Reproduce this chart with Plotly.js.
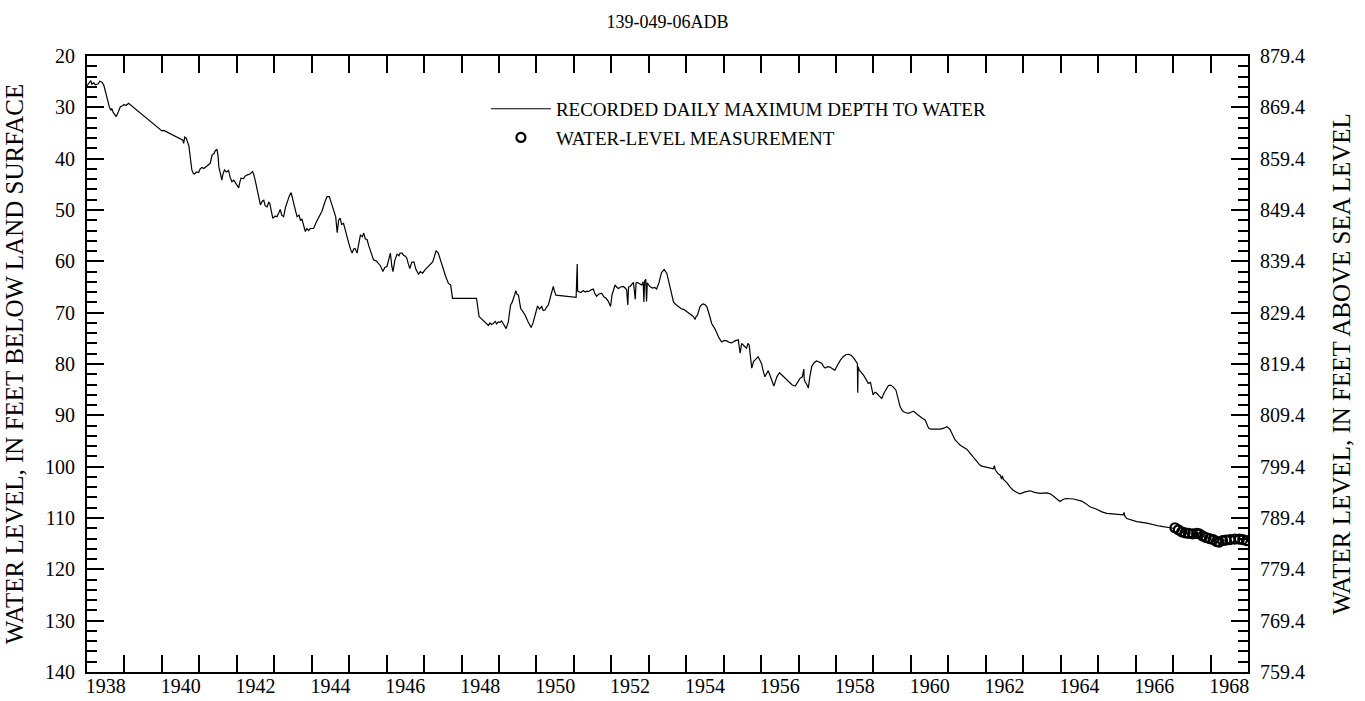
<!DOCTYPE html>
<html>
<head>
<meta charset="utf-8">
<script src="https://cdn.plot.ly/plotly-3.0.1.min.js"></script>
<style>html,body{margin:0;padding:0;background:#fff;}#chart{width:1365px;height:701px;}</style>
</head>
<body>
<div id="chart"></div>
<script>
// Recorded daily maximum depth to water (decimal year, feet below land surface)
const recordYears = [
1938.00,1938.05,1938.10,1938.13,1938.18,1938.22,1938.30,1938.34,1938.40,1938.45,1938.49,1938.55,1938.60,1938.64,1938.66,1938.70,1938.78,1938.84,1938.89,1938.95,1938.98,1939.05,1939.11,
1940.00,1940.05,1940.56,1940.58,1940.61,1940.65,1940.72,1940.76,1940.80,1940.84,1940.87,1940.92,1940.98,1941.02,1941.07,1941.12,1941.20,1941.25,1941.29,1941.34,1941.39,1941.43,1941.47,1941.50,1941.52,1941.56,1941.60,1941.63,1941.67,1941.72,1941.78,1941.82,1941.87,1941.92,1941.96,
1942.00,1942.05,1942.08,1942.11,1942.18,1942.22,1942.27,1942.35,1942.42,1942.45,1942.49,1942.55,1942.58,1942.63,1942.68,1942.72,1942.76,1942.81,1942.85,1942.88,1942.93,1942.96,
1943.02,1943.07,1943.12,1943.16,1943.20,1943.25,1943.30,1943.34,1943.40,1943.45,1943.50,1943.52,1943.57,1943.61,1943.66,1943.70,1943.74,1943.79,1943.83,1943.87,1943.92,1943.96,
1944.05,1944.12,1944.19,1944.27,1944.35,1944.41,1944.47,1944.53,1944.59,1944.64,1944.68,1944.72,1944.76,1944.80,1944.85,1944.92,1944.99,
1945.04,1945.08,1945.12,1945.16,1945.21,1945.25,1945.30,1945.35,1945.39,1945.43,1945.48,1945.52,1945.56,1945.60,1945.65,1945.72,1945.79,1945.84,1945.90,1945.95,
1946.01,1946.06,1946.10,1946.14,1946.17,1946.22,1946.28,1946.33,1946.36,1946.41,1946.45,1946.50,1946.54,1946.58,1946.62,1946.67,1946.73,1946.78,1946.85,1946.90,1946.96,
1947.03,1947.11,1947.17,1947.23,1947.28,1947.32,1947.38,1947.45,1947.51,1947.58,1947.65,1947.71,1947.76,
1948.40,1948.47,1948.55,1948.63,1948.68,1948.72,1948.76,1948.80,1948.85,1948.90,1948.94,1948.98,
1949.03,1949.07,1949.12,1949.19,1949.25,1949.28,1949.31,1949.35,1949.38,1949.42,1949.45,1949.48,1949.52,1949.55,1949.58,1949.64,1949.70,1949.78,1949.86,1949.91,1949.96,
1950.00,1950.03,1950.08,1950.14,1950.18,1950.23,1950.27,1950.32,1950.38,1950.45,1950.48,1950.52,
1951.06,1951.09,1951.10,1951.12,1951.18,1951.25,1951.30,1951.35,1951.39,1951.45,1951.52,1951.56,1951.61,1951.66,1951.74,1951.80,1951.86,1951.92,1951.98,
1952.02,1952.05,1952.10,1952.14,1952.19,1952.25,1952.32,1952.37,1952.41,1952.44,1952.46,1952.50,1952.55,1952.59,1952.64,1952.66,1952.69,1952.75,1952.81,1952.85,1952.87,1952.89,1952.92,1952.94,1952.96,
1953.03,1953.10,1953.16,1953.21,1953.27,1953.31,1953.34,1953.41,1953.45,1953.48,1953.52,1953.57,1953.62,1953.66,1953.72,1953.79,1953.86,1953.94,
1954.01,1954.10,1954.18,1954.24,1954.26,1954.30,1954.34,1954.37,1954.42,1954.46,1954.51,1954.55,1954.62,1954.68,1954.77,1954.82,1954.86,1954.90,1954.95,
1955.02,1955.08,1955.15,1955.21,1955.30,1955.39,1955.44,1955.46,1955.48,1955.55,1955.61,1955.65,1955.68,1955.75,1955.80,1955.84,1955.88,1955.92,1955.97,
1956.01,1956.06,1956.10,1956.15,1956.19,1956.25,1956.34,1956.42,1956.49,1956.56,1956.64,1956.75,1956.83,1956.91,1956.98,
1957.04,1957.10,1957.14,1957.15,1957.17,1957.22,1957.26,1957.30,1957.35,1957.42,1957.48,1957.55,1957.62,1957.67,1957.71,1957.78,1957.84,1957.92,1957.97,
1958.02,1958.06,1958.12,1958.19,1958.26,1958.33,1958.40,1958.46,1958.52,1958.57,1958.58,1958.59,1958.62,1958.68,1958.73,1958.80,1958.86,1958.92,1958.99,
1959.04,1959.09,1959.15,1959.22,1959.28,1959.35,1959.40,1959.46,1959.53,1959.60,1959.65,1959.71,1959.76,1959.80,1959.87,1959.93,
1960.00,1960.07,1960.15,1960.24,1960.31,1960.38,1960.43,1960.47,1960.53,1960.60,1960.70,1960.78,1960.88,1960.96,
1961.04,1961.10,1961.18,1961.25,1961.31,1961.40,1961.49,1961.55,1961.62,1961.69,1961.76,1961.84,1961.89,
1962.02,1962.11,1962.20,1962.23,1962.25,1962.33,1962.38,1962.42,1962.44,1962.47,1962.56,1962.65,1962.73,1962.82,1962.91,
1963.05,1963.18,1963.30,1963.45,1963.63,1963.72,1963.80,1963.90,1963.98,
1964.06,1964.14,1964.34,1964.56,1964.67,1964.78,1964.96,
1965.10,1965.23,1965.49,1965.67,1965.69,1965.71,1965.76,
1966.03,1966.30,1966.65,1967.01
];
const recordDepth = [
25.8,25.3,24.8,25.5,25.2,25.6,25.4,24.9,25.1,25.7,27.0,29.0,30.0,30.6,30.2,31.0,31.8,30.8,29.9,29.7,29.5,29.6,29.2,
34.6,34.5,36.4,37.0,35.8,36.0,37.5,40.3,42.2,42.9,43.0,42.6,42.7,42.0,41.7,41.9,41.4,41.2,40.9,39.3,39.0,38.4,38.2,39.5,41.6,42.8,44.2,43.0,42.2,42.6,42.3,43.6,44.5,44.2,44.7,
45.2,45.7,44.6,43.8,43.9,43.4,43.2,43.0,42.5,43.0,44.2,46.5,47.4,49.0,48.3,48.1,49.2,49.4,48.5,48.7,50.5,51.6,
51.2,51.3,50.6,49.9,51.0,51.3,49.5,48.4,47.3,46.6,47.8,48.7,50.2,51.3,51.0,52.0,51.8,53.0,54.2,53.6,54.0,53.6,
53.6,52.4,51.3,50.3,48.5,47.4,47.4,48.7,50.0,51.3,54.4,52.0,51.6,52.8,52.6,54.8,56.5,
57.7,58.4,57.6,57.5,58.4,56.5,54.9,55.2,54.5,55.6,55.8,56.9,57.8,59.0,59.7,59.9,60.4,60.9,62.0,61.2,
61.0,59.5,58.4,61.0,62.0,59.8,58.6,58.9,58.4,58.4,58.8,59.0,59.4,60.5,61.4,60.2,60.1,61.5,62.5,62.0,62.3,
61.6,61.0,60.5,60.1,59.0,57.9,58.4,59.8,61.4,63.0,64.3,64.6,67.2,
67.2,70.8,71.3,71.8,72.3,72.5,72.0,72.3,72.1,71.7,72.2,71.8,
71.9,71.6,72.2,73.1,71.8,70.0,68.5,68.0,67.5,66.5,65.7,66.4,66.6,68.0,69.2,69.8,70.5,71.8,72.9,72.0,70.8,
69.5,68.7,69.3,68.8,69.6,69.5,68.9,68.5,66.8,64.9,65.8,66.6,
67.0,60.5,65.8,65.9,66.1,65.7,66.0,65.8,65.9,65.6,65.4,66.3,66.8,66.4,66.2,66.9,67.2,67.8,68.8,
66.5,65.6,64.6,65.0,65.3,65.0,64.9,65.2,65.6,68.5,65.0,64.9,64.5,64.1,67.4,64.2,64.1,64.4,64.6,64.0,67.9,63.8,63.5,67.8,64.2,
64.9,65.2,65.1,65.4,64.2,62.8,62.2,61.6,62.0,62.3,63.5,64.9,66.5,67.9,68.4,68.8,69.2,69.4,
69.8,70.3,70.7,71.3,70.8,70.5,69.5,68.8,68.4,68.3,68.5,68.8,70.5,72.1,73.2,74.2,74.7,75.2,75.7,
75.4,75.5,75.8,75.9,75.5,75.3,77.9,76.2,76.0,76.5,76.9,76.0,76.3,80.8,79.5,79.2,78.8,78.6,79.3,
79.9,81.5,82.5,81.8,81.3,82.5,84.3,82.5,81.7,82.2,82.8,83.6,84.1,84.3,83.6,
82.8,82.5,81.0,82.9,83.4,84.0,84.7,82.5,80.5,79.7,79.4,79.6,79.9,80.5,80.8,80.5,80.6,81.0,81.2,
80.5,79.9,79.2,78.6,78.2,78.1,78.3,78.7,79.3,79.9,85.6,80.5,81.2,81.7,82.1,83.0,83.8,83.6,86.0,
85.5,85.7,86.2,86.7,85.7,84.7,84.2,84.1,84.5,85.1,86.5,88.3,89.0,89.3,89.5,89.6,
89.4,89.2,89.7,90.3,90.6,90.9,91.8,92.5,92.7,92.7,92.8,92.7,92.5,92.2,
92.7,93.7,94.8,95.3,95.8,96.2,96.6,97.1,97.7,98.4,99.0,99.7,99.9,
100.1,100.3,100.4,99.8,100.6,101.4,101.6,102.4,101.8,102.5,103.1,104.0,104.6,105.0,105.3,
104.9,104.7,105.0,105.2,105.1,105.3,105.7,106.3,106.8,
106.4,106.2,106.3,106.7,107.2,107.8,108.3,
108.8,109.1,109.3,109.4,108.9,109.6,110.1,
110.7,111.0,111.6,112.0
];

// Water-level measurements (decimal year, feet below land surface)
const measYears = [1967.05,1967.14,1967.23,1967.32,1967.41,1967.52,1967.63,1967.70,1967.79,1967.88,1967.97,
  1968.07,1968.16,1968.23,1968.32,1968.41,1968.52,1968.65,1968.77,1968.86,1968.96];
const measDepth = [111.9,112.3,112.7,112.9,113.0,113.1,113.0,113.1,113.5,113.8,114.0,
  114.2,114.6,114.7,114.4,114.3,114.2,114.1,114.1,114.2,114.4];

const labelYears = [1938,1940,1942,1944,1946,1948,1950,1952,1954,1956,1958,1960,1962,1964,1966,1968];
const landSurface = 899.4; // elevation of land surface, ft above sea level

// measurements expressed as elevation for the right-hand axis (same positions as depth on the left axis)
const measElev = measDepth.map(d => +(landSurface - d).toFixed(1));

const FONT = 'Liberation Serif, Times New Roman, serif';

const traces = [
  {x: recordYears, y: recordDepth, type: 'scatter', mode: 'lines', xaxis: 'x', yaxis: 'y',
   name: 'RECORDED DAILY MAXIMUM DEPTH TO WATER', legendgroup: 'a',
   line: {color: '#000', width: 1.2}},
  {x: measYears, y: measElev, type: 'scatter', mode: 'markers', xaxis: 'x2', yaxis: 'y2',
   name: 'WATER-LEVEL MEASUREMENT', legendgroup: 'b',
   marker: {symbol: 'circle-open', size: 9, color: '#000', line: {width: 2.2, color: '#000'}}}
];

const tickFont = {family: FONT, size: 20, color: '#000'};
const layout = {
  width: 1365, height: 701,
  margin: {l: 87, r: 117, t: 56, b: 29},
  paper_bgcolor: '#fff', plot_bgcolor: '#fff',
  font: {family: FONT, color: '#000'},
  title: {text: '139-049-06ADB', font: {family: FONT, size: 18, color: '#000'},
          xref: 'paper', x: 0.5, xanchor: 'center', yref: 'container', y: 1 - 22/701, yanchor: 'middle'},
  showlegend: true,
  legend: {x: 0.3436, y: 0.945, xanchor: 'left', yanchor: 'top', bgcolor: 'rgba(0,0,0,0)',
           font: {family: FONT, size: 19, color: '#000'}, itemwidth: 60, tracegroupgap: 1,
           traceorder: 'grouped'},
  xaxis: {range: [1938, 1969], tick0: 1938, dtick: 1, ticks: 'inside', ticklen: 17, tickwidth: 2,
          tickcolor: '#000', showticklabels: false, showline: true, linewidth: 2, linecolor: '#000',
          mirror: 'ticks', showgrid: false, zeroline: false},
  xaxis2: {overlaying: 'x', anchor: 'y2', side: 'bottom', range: [1938, 1969], tickmode: 'array',
           tickvals: labelYears.map(y => y + 0.5), ticktext: labelYears.map(String), ticks: '',
           showline: false, showgrid: false, zeroline: false, tickfont: tickFont},
  yaxis: {range: [140, 20], tick0: 20, dtick: 10, ticks: 'inside', ticklen: 17, tickwidth: 2,
          tickcolor: '#000', tickfont: tickFont, ticklabelstandoff: 6,
          minor: {tick0: 20, dtick: 2, ticks: 'inside', ticklen: 10, tickwidth: 2, tickcolor: '#000', showgrid: false},
          showline: true, linewidth: 2, linecolor: '#000', showgrid: false, zeroline: false,
          title: {text: 'WATER LEVEL, IN FEET BELOW LAND SURFACE', font: {family: FONT, size: 25, color: '#000'}, standoff: 14}},
  yaxis2: {overlaying: 'y', anchor: 'x2', side: 'right',
           range: [landSurface - 140, landSurface - 20], tick0: landSurface - 140, dtick: 10, tickformat: '.1f',
           ticks: 'inside', ticklen: 17, tickwidth: 2, tickcolor: '#000', tickfont: tickFont, ticklabelstandoff: 6,
           minor: {tick0: landSurface - 140, dtick: 2, ticks: 'inside', ticklen: 10, tickwidth: 2, tickcolor: '#000', showgrid: false},
           showline: true, linewidth: 2, linecolor: '#000', showgrid: false, zeroline: false,
           title: {text: 'WATER LEVEL, IN FEET ABOVE SEA LEVEL', font: {family: FONT, size: 25, color: '#000'}, standoff: 28}}
};

Plotly.newPlot('chart', traces, layout, {displayModeBar: false, staticPlot: true});
</script>
</body>
</html>
